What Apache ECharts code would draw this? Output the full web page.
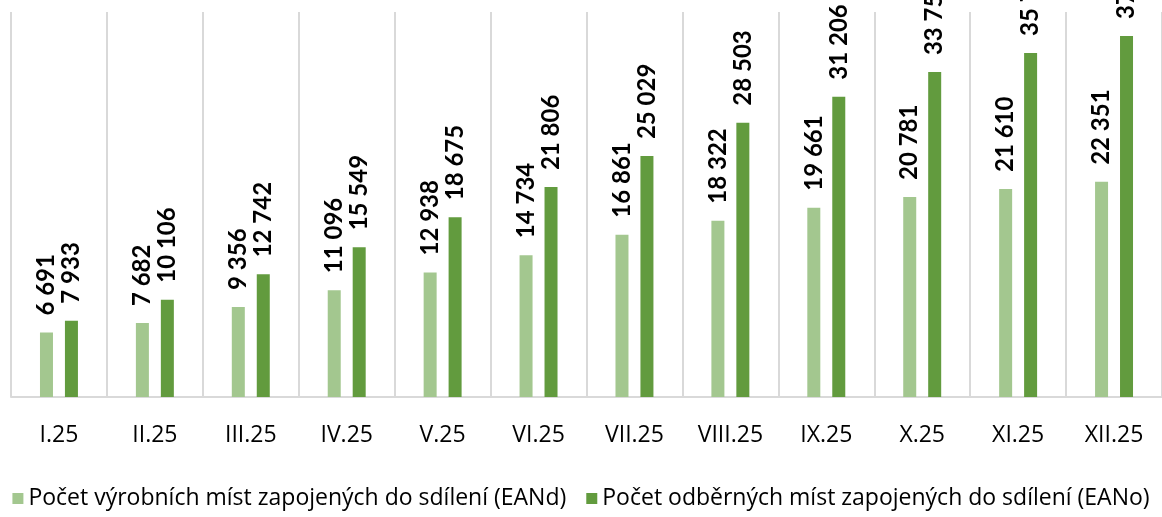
<!DOCTYPE html>
<html>
<head>
<meta charset="utf-8">
<script src="https://cdn.jsdelivr.net/npm/echarts@6/dist/echarts.min.js"></script>
<style>
  html, body { margin: 0; padding: 0; background: #fff; }
  #main { width: 1162px; height: 517px; }
</style>
</head>
<body>
<div id="main"></div>
<script>
// mesice
var months = ['I.25', 'II.25', 'III.25', 'IV.25', 'V.25', 'VI.25', 'VII.25', 'VIII.25', 'IX.25', 'X.25', 'XI.25', 'XII.25'];
// vyrobni mista (EANd)
var eanD = [6691, 7682, 9356, 11096, 12938, 14734, 16861, 18322, 19661, 20781, 21610, 22351];
// odberna mista (EANo)
var eanO = [7933, 10106, 12742, 15549, 18675, 21806, 25029, 28503, 31206, 33757, 35740, 37510];
var names = ['Počet výrobních míst zapojených do sdílení (EANd)', 'Počet odběrných míst zapojených do sdílení (EANo)'];

function fmt(p) {
    return String(p.value).replace(/\B(?=(\d{3})+(?!\d))/g, ' ');
}

var font = 'Lato, "Open Sans", sans-serif';
var lbl = {
    show: true,
    position: 'top',
    distance: 17,
    rotate: 90,
    align: 'left',
    verticalAlign: 'middle',
    formatter: fmt,
    fontFamily: font,
    fontWeight: 'bold',
    fontSize: 24,
    color: '#000'
};

var chart = echarts.init(document.getElementById('main'));
chart.setOption({
    animation: false,
    grid: { left: 11, right: -1, top: 12, bottom: 120 },
    legend: {
        bottom: 2,
        left: 'center',
        padding: [5, 0],
        itemWidth: 11,
        itemHeight: 11,
        itemGap: 20,
        itemTextGap: 6,
        icon: 'rect',
        textStyle: { fontFamily: '"Open Sans", sans-serif', fontSize: 23, color: '#000' },
        data: names
    },
    xAxis: {
        type: 'category',
        data: months,
        axisLine: { lineStyle: { color: '#D9D9D9', width: 2 } },
        axisTick: { show: false },
        splitLine: { show: true, lineStyle: { color: '#D9D9D9', width: 2 } },
        axisLabel: { margin: 27, fontFamily: '"Open Sans", sans-serif', fontSize: 23, color: '#000' }
    },
    yAxis: {
        type: 'value',
        min: 0,
        max: 40000,
        show: false,
        splitLine: { show: false }
    },
    series: [
        {
            name: names[0],
            type: 'bar',
            data: eanD,
            barWidth: 13,
            barGap: '92%',
            itemStyle: { color: '#A3C78F' },
            label: lbl
        },
        {
            name: names[1],
            type: 'bar',
            data: eanO,
            barWidth: 13,
            itemStyle: { color: '#629B3E' },
            label: lbl
        }
    ]
});
</script>
</body>
</html>
